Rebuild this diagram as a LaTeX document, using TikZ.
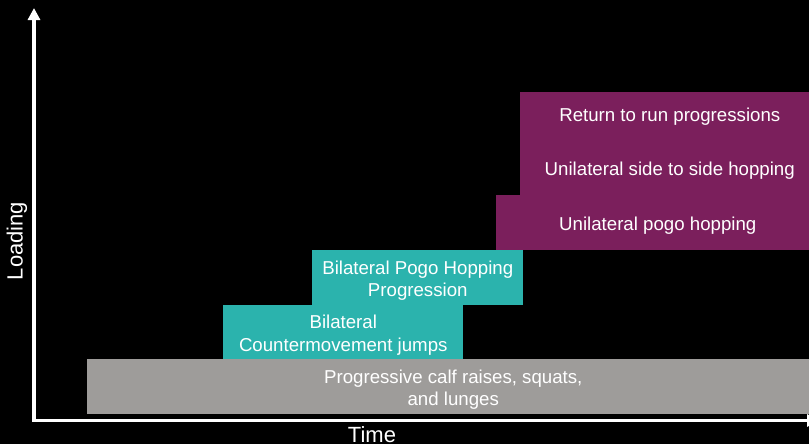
\documentclass[tikz,border=0pt]{standalone}
\usepackage{fontspec}
\setmainfont{Liberation Sans}
\usetikzlibrary{arrows.meta,positioning}
\definecolor{gc}{RGB}{158,156,154}
\definecolor{tc}{RGB}{43,179,173}
\definecolor{pc}{RGB}{123,31,92}
\tikzset{blk/.style={fill=gc,inner sep=0pt,anchor=north west},
 sz/.style 2 args={minimum width=#1*0.75pt,minimum height=#2*0.75pt},
 tl/.style={blk,fill=tc},pl/.style={blk,fill=pc},
 txt/.style={inner sep=0pt,align=center,text=white,font=\fontsize{14}{17}\selectfont},
 ax/.style={white,line width=2.5pt,line join=miter,{Triangle[length=9pt,width=9pt]}-{Triangle[length=9pt,width=9pt]}},
 axlab/.style={white,font=\fontsize{16.5}{20}\selectfont}}
\begin{document}
\begin{tikzpicture}[x=0.75pt,y=-0.75pt]
\useasboundingbox (0,0) rectangle (809,444);
\clip (0,0) rectangle (809,444);
\fill[black] (0,0) rectangle (809,444);
% stages
\node[blk,sz={732}{55}] (calf) at (87,359) {};
\node[tl,sz={240}{54}] (cmj) at (223,305) {};
\node[tl,sz={211}{55}] (bpogo) at (312,250) {};
\node[pl,sz={323}{55}] (upogo) at (496,195) {};
\node[pl,sz={299}{58}] (side) at (520,138) {};
\node[pl,sz={299}{47}] (run) at (520,92) {};
\node[txt] (calft) at ([yshift=-2.25pt]calf.center) {Progressive calf raises, squats,\\and lunges};
\node[txt] (cmjt) at ([yshift=-2.25pt]cmj.center) {Bilateral\\Countermovement jumps};
\node[txt] (bpogot) at ([yshift=-2.25pt]bpogo.center) {Bilateral Pogo Hopping\\Progression};
\node[txt] (upogot) at ([yshift=-2.25pt]upogo.center) {Unilateral pogo hopping};
\node[txt] (sidet) at ([yshift=-2.25pt]side.center) {Unilateral side to side hopping};
\node[txt] (runt) at ([yshift=-0.75pt]run.center) {Return to run progressions};
% axes
\coordinate (ytop) at (34,8);
\coordinate (orig) at (34,420.5);
\coordinate (xend) at (819,420.5);
\draw[ax] (ytop) -- (orig) -- (xend);
\node[axlab,rotate=90] (load) at (17,241) {Loading};
\node[axlab] (time) at (372,435) {Time};
\end{tikzpicture}
\end{document}
